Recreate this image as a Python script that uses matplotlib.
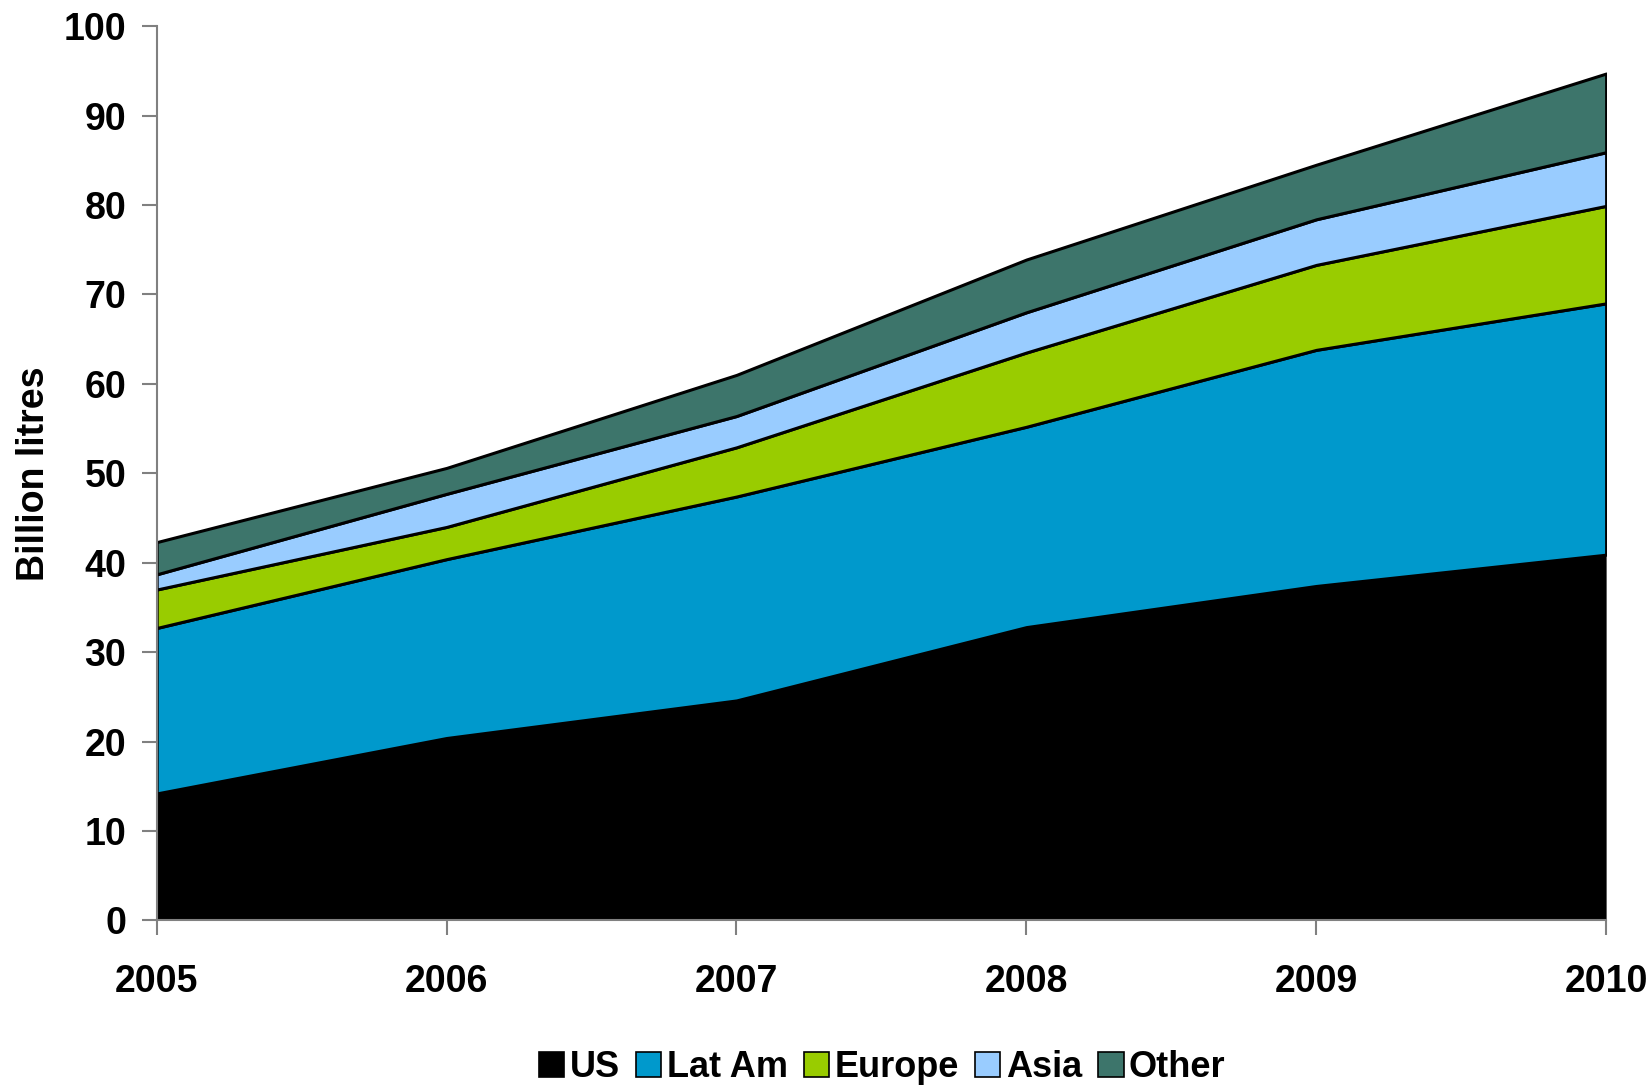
import numpy as np
import matplotlib
matplotlib.use("Agg")
import matplotlib.pyplot as plt
from matplotlib.patches import Patch

plt.rcParams['font.family'] = ['Liberation Sans', 'DejaVu Sans']
plt.rcParams['font.weight'] = 'bold'

# --------------------------------------------
# dados (bilhoes de litros)
years = [2005, 2006, 2007, 2008, 2009, 2010]
us = [14.2, 20.4, 24.6, 32.8, 37.4, 40.9]
latam = [18.5, 20.0, 22.8, 22.4, 26.4, 28.1]
europe = [4.3, 3.6, 5.5, 8.3, 9.5, 10.9]
asia = [1.7, 3.7, 3.5, 4.5, 5.1, 6.0]
other = [3.6, 2.9, 4.6, 5.9, 6.1, 8.8]

labels = ['US', 'Lat Am', 'Europe', 'Asia', 'Other']
colors = ['#000000', '#0099CC', '#99CC00', '#99CCFF', '#3D756B']

# --------------------------------------------
# grafico
fig = plt.figure(figsize=(16.49, 10.88), dpi=100)
ax = fig.add_axes([0.095, 0.154, 0.879, 0.822])

polys = ax.stackplot(years, us, latam, europe, asia, other,
                     colors=colors, edgecolor='black', linewidth=2.2)
polys[0].set_linewidth(0)

ax.set_xlim(2005, 2010)
ax.set_ylim(0, 100)
ax.set_xticks(years)
ax.set_yticks(np.arange(0, 101, 10))

for s in ['top', 'right']:
    ax.spines[s].set_visible(False)
for s in ['left', 'bottom']:
    ax.spines[s].set_color('#808080')
    ax.spines[s].set_linewidth(1.5)

ax.tick_params(axis='both', colors='#808080', length=11, width=1.5,
               labelcolor='black', labelsize=27)
ax.tick_params(axis='y', pad=11)
ax.tick_params(axis='x', pad=20)

ax.set_ylabel('Billion litres', fontsize=27, fontweight='bold')
ax.yaxis.set_label_coords(-0.072, 0.5)

handles = [Patch(facecolor=c, edgecolor='black', linewidth=1.2) for c in colors]
fig.legend(handles, labels, loc='lower center', ncol=5, frameon=False,
           fontsize=26, bbox_to_anchor=(0.535, -0.027),
           handlelength=0.7, handleheight=0.7, handletextpad=0.15,
           columnspacing=0.45)

fig.savefig('out.png', dpi=100)
